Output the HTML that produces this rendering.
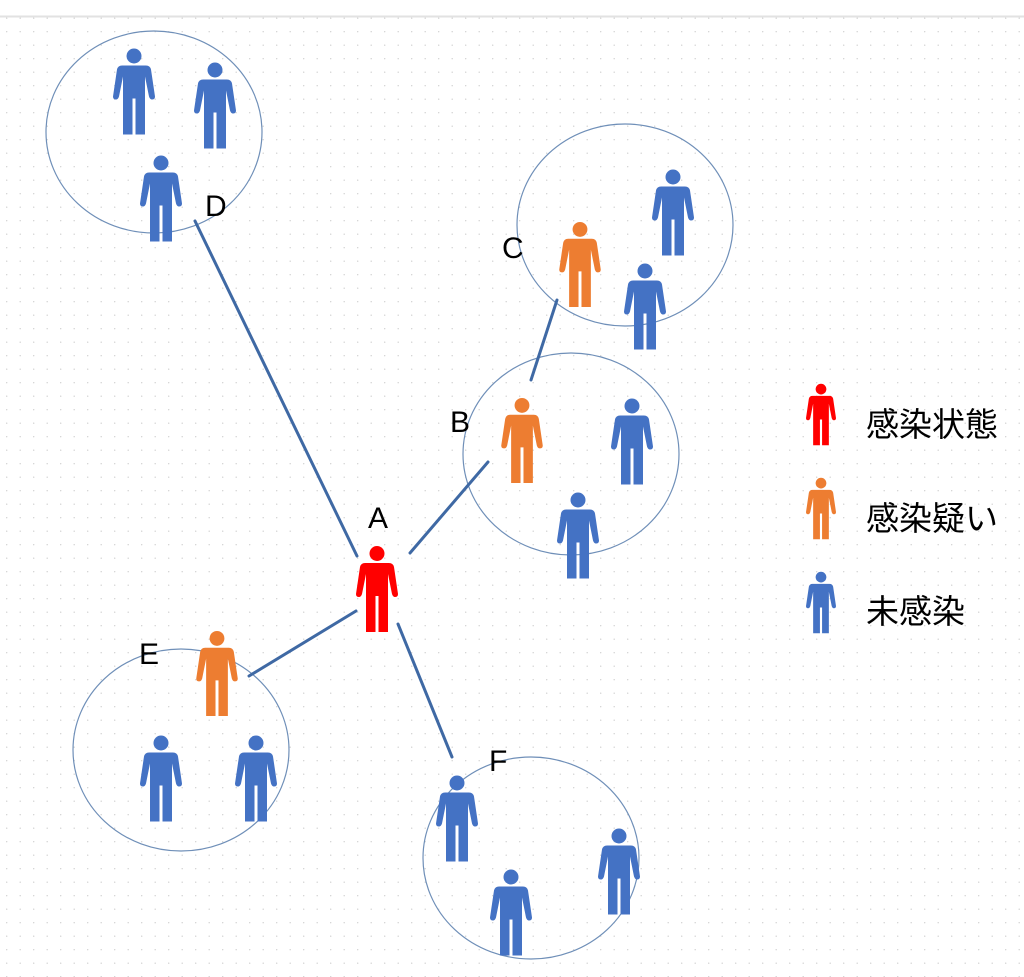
<!DOCTYPE html>
<html><head><meta charset="utf-8"><style>
html,body{margin:0;padding:0;background:#fff;}
svg{display:block}
</style></head><body>
<svg width="1024" height="977" viewBox="0 0 1024 977" xmlns="http://www.w3.org/2000/svg">
<defs>
<pattern id="g" x="6" y="4" width="13.5" height="13.5" patternUnits="userSpaceOnUse">
<circle cx="0.7" cy="0.7" r="0.7" fill="#d0d0d0"/>
</pattern>
<symbol id="p" viewBox="0 0 42 86">
<circle cx="21" cy="7.5" r="7.5"/>
<path d="M9,17 H33 Q37,17 38,21 L42,48 Q42,51 39,51 Q37,51 36,48 L32,28 V86 H22.5 V50 H19.5 V86 H10 V28 L6,48 Q5,51 3,51 Q0,51 0,48 L4,21 Q5,17 9,17 Z"/>
</symbol>
</defs>
<rect x="0" y="17" width="1024" height="960" fill="url(#g)"/>
<line x1="0" y1="16.5" x2="1024" y2="16.5" stroke="#e2e2e2" stroke-width="2"/>
<g fill="none" stroke="#6f8fb8" stroke-width="1.2">
<ellipse cx="154" cy="132" rx="108" ry="101"/>
<ellipse cx="625" cy="225" rx="108" ry="101"/>
<ellipse cx="571" cy="454" rx="108" ry="101"/>
<ellipse cx="181" cy="750" rx="108" ry="101"/>
<ellipse cx="531" cy="858" rx="108" ry="101"/>
</g>
<g stroke="#3f69a4" stroke-width="3" stroke-linecap="round">
<line x1="195" y1="221" x2="357" y2="556"/>
<line x1="557" y1="300" x2="531" y2="380"/>
<line x1="488" y1="462" x2="410" y2="553"/>
<line x1="356" y1="611" x2="249" y2="676"/>
<line x1="398" y1="624" x2="452" y2="757"/>
</g>
<g fill="#4472c4">
<use href="#p" x="113" y="48" width="42" height="87"/>
<use href="#p" x="194" y="62" width="42" height="87"/>
<use href="#p" x="140" y="155" width="42" height="87"/>
<use href="#p" x="652" y="169" width="42" height="87"/>
<use href="#p" x="624" y="263" width="42" height="87"/>
<use href="#p" x="611" y="398" width="42" height="87"/>
<use href="#p" x="557" y="492" width="42" height="87"/>
<use href="#p" x="140" y="735" width="42" height="87"/>
<use href="#p" x="235" y="735" width="42" height="87"/>
<use href="#p" x="436" y="775" width="42" height="87"/>
<use href="#p" x="598" y="828" width="42" height="87"/>
<use href="#p" x="490" y="869" width="42" height="87"/>
<use href="#p" x="806" y="571" width="30" height="63"/>
</g>
<g fill="#ed7d31">
<use href="#p" x="559" y="222" width="42" height="85"/>
<use href="#p" x="501" y="398" width="42" height="85"/>
<use href="#p" x="196" y="631" width="42" height="85"/>
<use href="#p" x="806" y="477" width="30" height="63"/>
</g>
<g fill="#ff0000">
<use href="#p" x="356" y="545" width="42" height="88"/>
<use href="#p" x="806" y="383" width="30" height="63"/>
</g>
<g font-family="Liberation Sans, sans-serif" font-size="30" fill="#000">
<text x="368" y="528">A</text>
<text x="450" y="432">B</text>
<text x="502" y="258">C</text>
<text x="205" y="216">D</text>
<text x="139" y="664">E</text>
<text x="489" y="771">F</text>
</g>
<g font-family="Liberation Sans, 'Noto Sans CJK JP', sans-serif" font-size="33" fill="#000">
<text x="866" y="436">感染状態</text>
<text x="866" y="530">感染疑い</text>
<text x="866" y="623">未感染</text>
</g>
</svg>
</body></html>
